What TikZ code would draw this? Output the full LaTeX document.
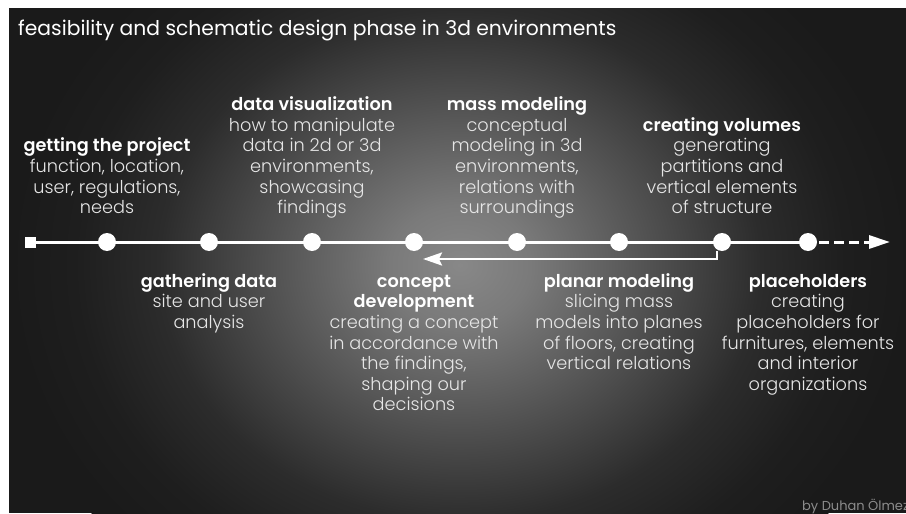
\documentclass[tikz,border=0pt]{standalone}
\usepackage{fontspec}
\setmainfont{Poppins}
\newfontfamily\lightfont{Poppins Light}
\newfontfamily\headfont{Poppins SemiBold}
\usetikzlibrary{arrows.meta}

% background glow colours
\definecolor{gcore}{HTML}{888888}
\definecolor{ginner}{HTML}{7A7A7A}
\definecolor{gmid}{HTML}{525252}
\definecolor{gouter}{HTML}{2C2C2C}
\definecolor{gfar}{HTML}{1E1E1E}
\definecolor{gedge}{HTML}{1A1A1A}
\definecolor{bgdark}{HTML}{1A1A1A}
\definecolor{desc}{HTML}{E6E6E6}
\definecolor{credit}{HTML}{8C8C8C}
\pgfdeclareradialshading{glow}{\pgfpoint{0bp}{0bp}}{color(0bp)=(gcore); color(3.75bp)=(ginner); color(10bp)=(gmid); color(16bp)=(gouter); color(20.5bp)=(gfar); color(24bp)=(gedge); color(50bp)=(gedge)}

\begin{document}
\begin{tikzpicture}[x=1pt,y=-1pt,
  lbl/.style={align=center, text=desc, inner sep=0pt, anchor=north,
    font=\lightfont\fontsize{17.7}{20.6}\selectfont},
  dot/.style={circle, fill=white, minimum size=18pt, inner sep=0pt},
  startbox/.style={rectangle, fill=white, minimum size=11pt, inner sep=0pt},
  tl/.style={white, line width=3pt},
  backarrow/.style={white, line width=2.5pt, line join=miter,
    -{Stealth[length=19pt, width=13pt, inset=3pt]}},
  onward/.style={white, line width=3pt, dash pattern=on 10pt off 5pt,
    -{Triangle[length=21pt, width=13pt]}}]

  % slide frame and glow
  \fill[white] (0,0) rectangle (906,514);
  \useasboundingbox (0,0) rectangle (906,514);
  \fill[bgdark] (9,8) rectangle (906,513);
  \begin{scope}
    \clip (9,8) rectangle (906,513);
    \shade[shading=glow] (460,265) ellipse [x radius=470pt, y radius=400pt];
    \node[anchor=base west, inner sep=0pt, text=credit,
      font=\fontsize{13}{15}\selectfont] (credit) at (802,510) {by Duhan Ölmez};
  \end{scope}

  % title
  \node[anchor=base west, inner sep=0pt, text=white,
    font=\fontsize{20.3}{24}\selectfont] (title) at (18,35)
    {feasibility and schematic design phase in 3d environments};

  % timeline stations
  \node[startbox] (s0) at (30,242) {};
  \node[dot] (c1) at (107,242) {};
  \node[dot] (c2) at (209,242) {};
  \node[dot] (c3) at (312,242) {};
  \node[dot] (c4) at (414,242) {};
  \node[dot] (c5) at (517,242) {};
  \node[dot] (c6) at (619,242) {};
  \node[dot] (c7) at (722,242) {};
  \node[dot] (c8) at (808,242) {};
  \coordinate (tip) at (890,242);

  \draw[tl] (s0.center) -- (c8.center);
  \draw[onward] ([xshift=2pt]c8.east) -- (tip);
  \draw[backarrow] ([xshift=-5pt]c7.south) |- ([xshift=9pt,yshift=-17pt]c4.center);

  % labels above the line
  \node[lbl] (t1) at (107,137.3) {\strut{\headfont\color{white}getting the project}\\function, location,\\user, regulations,\\needs};
  \node[lbl] (t3) at (312,96.1) {\strut{\headfont\color{white}data visualization}\\how to manipulate\\data in 2d or 3d\\environments,\\showcasing\\findings};
  \node[lbl] (t5) at (517,96.1) {\strut{\headfont\color{white}mass modeling}\\conceptual\\modeling in 3d\\environments,\\relations with\\surroundings};
  \node[lbl] (t7) at (722,116.7) {\strut{\headfont\color{white}creating volumes}\\generating\\partitions and\\vertical elements\\of structure};

  % labels below the line
  \node[lbl] (t2) at (209,272.6) {\strut{\headfont\color{white}gathering data}\\site and user\\analysis};
  \node[lbl] (t4) at (414,272.6) {\strut{\headfont\color{white}concept}\\{\headfont\color{white}development}\\creating a concept\\in accordance with\\the findings,\\shaping our\\decisions};
  \node[lbl] (t6) at (619,272.6) {\strut{\headfont\color{white}planar modeling}\\slicing mass\\models into planes\\of floors, creating\\vertical relations};
  \node[lbl] (t8) at (808,272.6) {\strut{\headfont\color{white}placeholders}\\creating\\placeholders for\\furnitures, elements\\and interior\\organizations};
\end{tikzpicture}
\end{document}
